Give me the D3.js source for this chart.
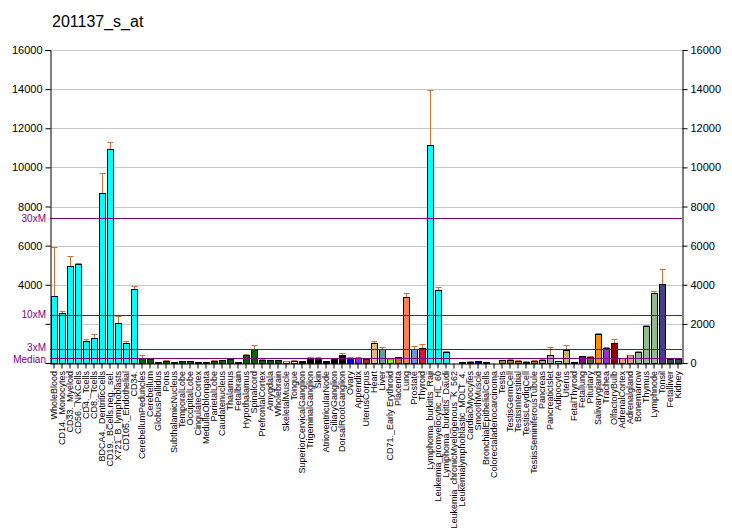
<!DOCTYPE html>
<html><head><meta charset="utf-8">
<script src="https://cdn.jsdelivr.net/npm/d3@7"></script>
<style>body{margin:0;background:#fff}svg{display:block;font-family:"Liberation Sans",Arial,sans-serif}</style>
</head><body><svg id="c" width="732" height="530"></svg>
<script>
const title = "201137_s_at";
const categories = ["WholeBlood","CD14._Monocytes","CD33._Myeloid","CD56._NKCells","CD4._Tcells","CD8._Tcells","BDCA4._DentriticCells","CD19._BCells.neg._sel.","X721_B_lymphoblasts","CD105._Endothelial","CD34.","CerebellumPeduncles","Cerebellum","GlobusPallidus","Pons","SubthalamicNucleus","TemporalLobe","OccipitalLobe","CingulateCortex","MedullaOblongata","ParietalLobe","Caudatenucleus","Thalamus","Fetalbrain","Hypothalamus","Spinalcord","PrefrontalCortex","Amygdala","Wholebrain","SkeletalMuscle","Tongue","SuperiorCervicalGanglion","TrigeminalGanglion","Skin","AtrioventricularNode","CiliaryGanglion","DorsalRootGanglion","Ovary","Appendix","UterusCorpus","Heart","Liver","CD71._Early Erythroid","Placenta","Lung","Prostate","Thyroid","Lymphoma_burkitts_Raji","Leukemia_promyelocytic_HL_60","Lymphoma_burkitts_Daudi","Leukemia_chronicMyelogenous_K_562","Leukemialymphoblastic_MOLT_4.","CardiacMyocytes","SmoothMuscle","BronchialEpithelialCells","Colorectaladenocarcinoma","Testis","TestisGermCell","TestisInterstitial","TestisLeydigCell","TestisSeminiferousTubule","Pancreas","PancreaticIslet","Adipocyte","Uterus","FetalThyroid","Fetallung","Pituitary","Salivarygland","Trachea","OlfactoryBulb","AdrenalCortex","Adrenalgland","Bonemarrow","Thymus","Lymphnode","Tonsil","Fetalliver","Kidney"];
const values = [3425,2556,4960,5060,1125,1278,8690,10925,2045,1022,3770,270,190,60,90,40,90,90,50,50,120,150,205,50,410,700,150,150,150,90,120,100,240,240,100,240,425,240,240,190,1005,730,190,290,3360,700,750,11130,3715,545,10,40,40,100,40,10,150,150,100,60,100,150,410,85,665,35,340,325,1465,750,1005,270,390,545,1890,3580,4040,205,205];
const errTops = [5915,2643,5455,5110,1210,1483,9700,11285,2400,1110,3935,395,190,60,150,40,90,90,50,50,150,150,205,50,460,920,200,150,150,120,170,100,300,300,100,240,510,300,300,190,1110,835,220,290,3565,855,955,13940,3870,600,10,40,80,100,40,10,150,200,150,100,150,200,800,85,905,35,340,360,1515,800,1210,270,430,600,1940,3665,4790,205,205];
const colors = ["#00FFFF","#00FFFF","#00FFFF","#00FFFF","#00FFFF","#00FFFF","#00FFFF","#00FFFF","#00FFFF","#00FFFF","#00FFFF",
"#006400","#006400","#006400","#006400","#006400","#006400","#006400","#006400","#006400","#006400","#006400","#006400","#006400","#006400","#006400","#006400","#006400","#006400",
"#FFE4C4","#FFE4C4","#000000","#000000","#000000","#000000","#000000","#000000",
"#0000FF","#8A2BE2","#A52A2A","#DEB887","#5F9EA0","#7FFF00","#D2691E","#FF7F50","#6495ED","#DC143C",
"#00FFFF","#00FFFF","#00FFFF","#00FFFF","#00FFFF",
"#00008B","#00008B","#008B8B","#008B8B",
"#B8860B","#B8860B","#B8860B","#B8860B","#B8860B",
"#A9A9A9","#A9A9A9","#7FFFD4","#BDB76B","#BDB76B","#8B008B","#556B2F","#FF8C00","#9932CC","#8B0000","#E9967A","#E9967A","#8FBC8F","#8FBC8F","#8FBC8F","#483D8B","#2F4F4F","#2F4F4F"];
const yTicks = [0,2000,4000,6000,8000,10000,12000,14000,16000];
const leftTickLabels = [4000,6000,8000,10000,12000,14000,16000];
const median = 247;
const refLines = [{label:"30xM", v: median*30, nudge:0},{label:"10xM", v: median*10, nudge:0},{label:"3xM", v: median*3, nudge:-1.2},{label:"Median", v: median, nudge:1.2}];

const svg = d3.select("#c");
const L = 50, R = 682, T = 50, B = 363;
const x = d3.scaleBand().domain(categories).range([L, R]).paddingInner(0.2).paddingOuter(0.1);
const y = d3.scaleLinear().domain([0,16000]).range([B, T]);

svg.append("text").attr("x",52).attr("y",27).attr("font-size",16).attr("fill","#000").text(title);

// gridlines
svg.append("g").selectAll("line").data(yTicks.filter(d=>d>0)).join("line")
  .attr("x1",L).attr("x2",R).attr("y1",d=>Math.round(y(d))+0.5).attr("y2",d=>Math.round(y(d))+0.5)
  .attr("stroke","#C8C8C8").attr("stroke-width",1);

// bars
const g = svg.append("g");
g.selectAll("rect").data(categories).join("rect")
  .attr("x",(d)=>Math.round(x(d))+0.5)
  .attr("y",(d,i)=>Math.round(y(values[i]))+0.5)
  .attr("width",Math.round(x.bandwidth()))
  .attr("height",(d,i)=>Math.max(0, Math.round(B - y(values[i]))))
  .attr("fill",(d,i)=>colors[i]).attr("stroke","#000").attr("stroke-width",1);

// error bars
const eg = svg.append("g").attr("stroke","#C8733A").attr("stroke-width",1);
categories.forEach((d,i)=>{
  if (errTops[i] <= values[i]) return;
  const cx = Math.round(x(d) + x.bandwidth()/2) + 0.5;
  const yt = Math.round(y(errTops[i])) + 0.5;
  eg.append("line").attr("x1",cx).attr("x2",cx).attr("y1",Math.round(y(values[i]))).attr("y2",yt);
  eg.append("line").attr("x1",cx-3).attr("x2",cx+3).attr("y1",yt).attr("y2",yt);
});

// reference lines
svg.append("g").selectAll("line").data(refLines).join("line")
  .attr("x1",L).attr("x2",R).attr("y1",d=>Math.round(y(d.v))+0.5).attr("y2",d=>Math.round(y(d.v))+0.5)
  .attr("stroke","#800080").attr("stroke-width",1.2);
svg.append("g").selectAll("text").data(refLines).join("text")
  .attr("x",46).attr("y",d=>y(d.v)+d.nudge).attr("dy","0.35em").attr("text-anchor","end")
  .attr("font-size",10).attr("fill","#800080").text(d=>d.label);

// left axis
const la = svg.append("g").attr("transform",`translate(${L+0.5},0)`)
  .call(d3.axisLeft(y).tickValues(yTicks).tickSize(5).tickFormat(d=>leftTickLabels.includes(d)?d:""));
la.selectAll("text").attr("font-size",11).attr("font-family","'Liberation Sans',Arial,sans-serif").attr("fill","#000");
la.select(".domain").attr("stroke","#000");
// right axis
const ra = svg.append("g").attr("transform",`translate(${R+0.5},0)`)
  .call(d3.axisRight(y).tickValues(yTicks).tickSize(5).tickFormat(d3.format("d")));
ra.selectAll("text").attr("font-size",11).attr("font-family","'Liberation Sans',Arial,sans-serif").attr("fill","#000");
// bottom axis
const ba = svg.append("g").attr("transform",`translate(0,${B+0.5})`)
  .call(d3.axisBottom(x).tickSize(5).tickSizeOuter(0));
ba.selectAll("text").remove();
ba.select(".domain").attr("stroke","#000");
svg.append("g").selectAll("text").data(categories).join("text")
  .attr("transform",d=>`translate(${x(d)+x.bandwidth()/2},371) rotate(-90)`)
  .attr("dy","0.35em").attr("text-anchor","end").attr("font-size",9).attr("fill","#000").text(d=>d);
</script></body></html>
